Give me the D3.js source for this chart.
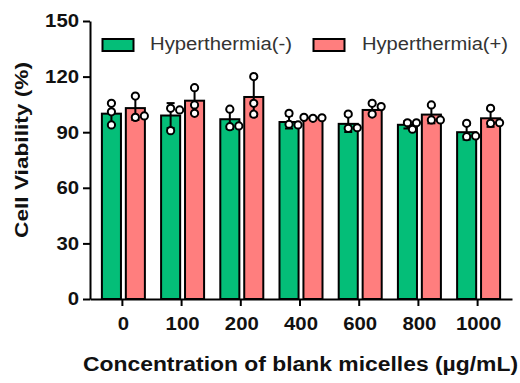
<!DOCTYPE html>
<html>
<head>
<meta charset="utf-8">
<script src="https://cdn.jsdelivr.net/npm/d3@7"></script>
<style>
  body { margin: 0; background: #fff; }
  text { font-family: "Liberation Sans", Arial, sans-serif; }
</style>
</head>
<body>
<div id="wrapper"></div>
<script>
// data
const concentrations = ["0", "100", "200", "400", "600", "800", "1000"]
const seriesNames = ["Hyperthermia(-)", "Hyperthermia(+)"]
const meanMinus = [100, 99, 97, 95.5, 94.5, 94, 90]
const meanPlus = [103, 107, 109, 97.8, 102, 99.5, 97.5]
const sdMinus = [5.9, 6.7, 5.3, 3.5, 4.4, 2.0, 4.0]
const sdPlus = [6.4, 7.0, 10.4, 0.3, 3.0, 4.7, 4.6]
const pointsMinus = [
  [105.6, 101, 93.9], [102.9, 102, 90.8], [102.4, 93, 93.4], [100.2, 94.3, 93.9],
  [99.8, 92.1, 92.4], [95.1, 95.1, 91.6], [94.8, 87.6, 88]
]
const pointsPlus = [
  [109.5, 98, 98.8], [114, 100.2, 104.7], [120, 99.7, 105.6], [97.5, 97.8, 98],
  [105.6, 103.8, 99.8], [104.7, 96.6, 96.6], [102.9, 94.8, 95.1]
]
const yTicks = [0, 30, 60, 90, 120, 150]
const colors = ["#04BE78", "#FF7E7E"]

const rows = concentrations.map((c, i) => ({
  conc: c,
  series: [
    { key: seriesNames[0], mean: meanMinus[i], sd: sdMinus[i], pts: pointsMinus[i] },
    { key: seriesNames[1], mean: meanPlus[i], sd: sdPlus[i], pts: pointsPlus[i] }
  ]
}))

const width = 520
const height = 383
const dims = { left: 90, right: 512, top: 21, bottom: 299 }
const stretch = 1.1

const svg = d3.select("#wrapper").append("svg")
  .attr("width", width)
  .attr("height", height)

const yScale = d3.scaleLinear()
  .domain([0, 150])
  .range([dims.bottom, dims.top])

const x0 = d3.scaleBand()
  .domain(concentrations)
  .range([dims.left, dims.right])
  .paddingInner(0.24)
  .paddingOuter(0.184)

const x1 = d3.scaleBand()
  .domain(seriesNames)
  .range([0, x0.bandwidth()])
  .paddingInner(0.12)

const color = d3.scaleOrdinal().domain(seriesNames).range(colors)

// bars
const groups = svg.append("g").selectAll("g")
  .data(rows)
  .join("g")
    .attr("transform", d => `translate(${x0(d.conc)},0)`)

const sub = groups.selectAll("g")
  .data(d => d.series)
  .join("g")
    .attr("transform", d => `translate(${x1(d.key)},0)`)

sub.append("rect")
  .attr("x", 1)
  .attr("width", x1.bandwidth() - 2)
  .attr("y", d => yScale(d.mean))
  .attr("height", d => yScale(0) - yScale(d.mean))
  .attr("fill", d => color(d.key))
  .attr("stroke", "#000")
  .attr("stroke-width", 2)

// error bars
const cx = x1.bandwidth() / 2
const capW = 4
sub.append("line")
  .attr("x1", cx).attr("x2", cx)
  .attr("y1", d => yScale(d.mean + d.sd))
  .attr("y2", d => yScale(d.mean - d.sd))
  .attr("stroke", "#000").attr("stroke-width", 2)
sub.append("line")
  .attr("x1", cx - capW).attr("x2", cx + capW)
  .attr("y1", d => yScale(d.mean + d.sd))
  .attr("y2", d => yScale(d.mean + d.sd))
  .attr("stroke", "#000").attr("stroke-width", 2)
sub.append("line")
  .attr("x1", cx - capW).attr("x2", cx + capW)
  .attr("y1", d => yScale(d.mean - d.sd))
  .attr("y2", d => yScale(d.mean - d.sd))
  .attr("stroke", "#000").attr("stroke-width", 2)

// scatter points, nudged sideways when they would overlap
function spread(pts) {
  const placed = []
  const offsets = [0, 5, -5, 9, -9]
  return pts.map(v => {
    const y = yScale(v)
    const dx = offsets.find(o => placed.every(p => Math.hypot(p.x - o, p.y - y) >= 6.5)) ?? 0
    placed.push({ x: dx, y })
    return { x: dx, y }
  })
}

sub.selectAll("circle")
  .data(d => spread(d.pts))
  .join("circle")
    .attr("cx", d => cx + d.x)
    .attr("cy", d => d.y)
    .attr("r", 3.6)
    .attr("fill", "#fff")
    .attr("stroke", "#000")
    .attr("stroke-width", 2)

// axes
const yAxis = svg.append("g")
  .attr("transform", `translate(${dims.left},0)`)
  .call(d3.axisLeft(yScale).tickValues(yTicks).tickSize(7).tickSizeOuter(0).tickPadding(4))
yAxis.select(".domain").attr("stroke-width", 2)
yAxis.selectAll(".tick line").attr("stroke-width", 2)
yAxis.selectAll(".tick text")
  .attr("x", -11 / stretch)
  .attr("transform", `scale(${stretch},1)`)
  .style("font-size", "18.5px")
  .style("font-weight", "bold")
  .attr("fill", "#111")

const xAxis = svg.append("g")
  .attr("transform", `translate(0,${dims.bottom})`)
  .call(d3.axisBottom(x0).tickSize(7).tickSizeOuter(0).tickPadding(11))
xAxis.select(".domain").attr("stroke-width", 2)
xAxis.selectAll(".tick line").attr("stroke-width", 2).attr("transform", "translate(-1,0)")
xAxis.selectAll(".tick text")
  .attr("transform", `scale(${stretch},1)`)
  .style("font-size", "18.5px")
  .style("font-weight", "bold")
  .attr("fill", "#111")

// axis titles
svg.append("text")
  .attr("x", 83)
  .attr("y", 371)
  .attr("textLength", 435)
  .attr("lengthAdjust", "spacingAndGlyphs")
  .style("font-size", "19.5px")
  .style("font-weight", "bold")
  .attr("fill", "#111")
  .text("Concentration of blank micelles (\u00b5g/mL)")

svg.append("text")
  .attr("transform", "translate(28,238) rotate(-90)")
  .attr("textLength", 176)
  .attr("lengthAdjust", "spacingAndGlyphs")
  .style("font-size", "18.5px")
  .style("font-weight", "bold")
  .attr("fill", "#111")
  .text("Cell Viability (%)")

// legend
const legend = [
  { key: seriesNames[0], sx: 102.5, tx: 150, tl: 142 },
  { key: seriesNames[1], sx: 313.5, tx: 362, tl: 146 }
]
const lg = svg.append("g").selectAll("g").data(legend).join("g")
lg.append("rect")
  .attr("x", d => d.sx)
  .attr("y", 39)
  .attr("width", 31)
  .attr("height", 12)
  .attr("fill", d => color(d.key))
  .attr("stroke", "#000")
  .attr("stroke-width", 2)
lg.append("text")
  .attr("x", d => d.tx)
  .attr("y", 50)
  .attr("textLength", d => d.tl)
  .attr("lengthAdjust", "spacingAndGlyphs")
  .style("font-size", "17.5px")
  .attr("fill", "#333")
  .text(d => d.key)
</script>
</body>
</html>
